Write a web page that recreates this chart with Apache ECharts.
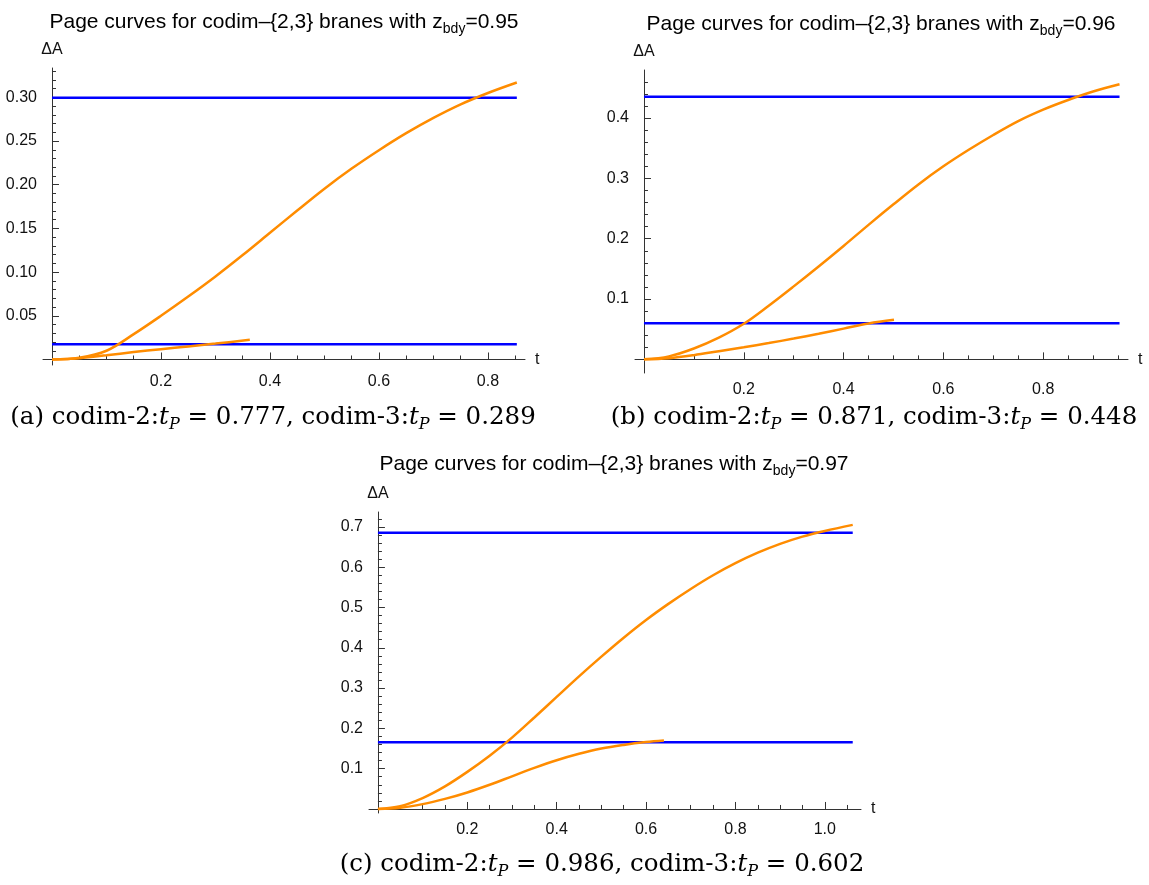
<!DOCTYPE html>
<html>
<head>
<meta charset="utf-8">
<title>Page curves for codim-{2,3} branes</title>
<script src="https://cdn.jsdelivr.net/npm/echarts@6/dist/echarts.min.js"></script>
<style>
  html, body { margin: 0; padding: 0; background: #fff; }
  #chart { width: 1149px; height: 885px; }
</style>
</head>
<body>
<div id="chart"></div>
<script>
// panel (a): z_bdy = 0.95
const aCodim2T = [0, 0.05, 0.1, 0.15, 0.2, 0.25, 0.3, 0.35, 0.4, 0.45, 0.5, 0.55, 0.6, 0.65, 0.7, 0.75, 0.8, 0.853];
const aCodim2V = [0, 0.002, 0.01, 0.029, 0.05, 0.072, 0.095, 0.1195, 0.145, 0.1705, 0.1955, 0.2185, 0.2395, 0.259, 0.2765, 0.292, 0.305, 0.317];
const aCodim3T = [0, 0.05, 0.1, 0.15, 0.2, 0.25, 0.3, 0.363];
const aCodim3V = [0, 0.0015, 0.0048, 0.0085, 0.0118, 0.015, 0.0182, 0.0225];
const aPlateaus = [0.2995, 0.0175];
const aLineEnd = 0.853;

// panel (b): z_bdy = 0.96
const bCodim2T = [0, 0.05, 0.1, 0.15, 0.2, 0.25, 0.3, 0.35, 0.4, 0.45, 0.5, 0.55, 0.6, 0.65, 0.7, 0.75, 0.8, 0.85, 0.9, 0.953];
const bCodim2V = [0, 0.005, 0.018, 0.036, 0.059, 0.089, 0.121, 0.154, 0.188, 0.223, 0.257, 0.29, 0.32, 0.347, 0.372, 0.395, 0.414, 0.43, 0.444, 0.456];
const bCodim3T = [0, 0.05, 0.1, 0.15, 0.2, 0.25, 0.3, 0.35, 0.4, 0.45, 0.501];
const bCodim3V = [0, 0.002, 0.007, 0.0135, 0.02, 0.027, 0.0345, 0.0425, 0.051, 0.0595, 0.0655];
const bPlateaus = [0.4355, 0.0597];
const bLineEnd = 0.953;

// panel (c): z_bdy = 0.97
const cCodim2T = [0, 0.05, 0.1, 0.15, 0.2, 0.25, 0.3, 0.35, 0.4, 0.45, 0.5, 0.55, 0.6, 0.65, 0.7, 0.75, 0.8, 0.85, 0.9, 0.95, 1.0, 1.0625];
const cCodim2V = [0, 0.007, 0.027, 0.056, 0.092, 0.132, 0.177, 0.227, 0.278, 0.329, 0.378, 0.425, 0.469, 0.509, 0.546, 0.58, 0.61, 0.636, 0.658, 0.676, 0.69, 0.705];
const cCodim3T = [0, 0.05, 0.1, 0.15, 0.2, 0.25, 0.3, 0.35, 0.4, 0.45, 0.5, 0.55, 0.6, 0.64];
const cCodim3V = [0, 0.003, 0.012, 0.025, 0.041, 0.06, 0.081, 0.102, 0.121, 0.137, 0.15, 0.159, 0.166, 0.17];
const cPlateaus = [0.6856, 0.1655];
const cLineEnd = 1.0625;

// tick marks
const aXTicks = [0.2, 0.4, 0.6, 0.8];
const aYTicks = [0.05, 0.1, 0.15, 0.2, 0.25, 0.3];
const bXTicks = [0.2, 0.4, 0.6, 0.8];
const bYTicks = [0.1, 0.2, 0.3, 0.4];
const cXTicks = [0.2, 0.4, 0.6, 0.8, 1.0];
const cYTicks = [0.1, 0.2, 0.3, 0.4, 0.5, 0.6, 0.7];

const zValues = ['0.95', '0.96', '0.97'];
const captions = [
  ['(a)', '0.777', '0.289'],
  ['(b)', '0.871', '0.448'],
  ['(c)', '0.986', '0.602'],
];

const SANS = '"Liberation Sans", Arial, sans-serif';
const SERIF = '"DejaVu Serif", serif';
const ORANGE = '#ff8c00';
const BLUE = '#0000ff';
const AXIS = '#333';

// minor tick positions between the labelled ones
const minorTicks = (step, upTo, majors) => {
  const out = [];
  for (let k = 1; k * step <= upTo + 1e-9; k++) {
    const v = +(k * step).toFixed(4);
    if (!majors.some((m) => Math.abs(m - v) < 1e-9)) out.push(v);
  }
  return out;
};

const panels = [
  { grid: { left: 43, top: 68, width: 482, height: 297 },
    x: [-0.0165, 0.868], y: [-0.0063, 0.3336],
    xMajor: aXTicks, yMajor: aYTicks, xMinor: minorTicks(0.05, 0.85, aXTicks), yMinor: minorTicks(0.01, 0.33, aYTicks),
    yDigits: 2, c2: [aCodim2T, aCodim2V], c3: [aCodim3T, aCodim3V], flat: aPlateaus, end: aLineEnd },
  { grid: { left: 635, top: 70, width: 493, height: 303 },
    x: [-0.018, 0.970], y: [-0.0226, 0.4797],
    xMajor: bXTicks, yMajor: bYTicks, xMinor: minorTicks(0.05, 0.95, bXTicks), yMinor: minorTicks(0.02, 0.48, bYTicks),
    yDigits: 1, c2: [bCodim2T, bCodim2V], c3: [bCodim3T, bCodim3V], flat: bPlateaus, end: bLineEnd },
  { grid: { left: 369, top: 512, width: 492, height: 301 },
    x: [-0.02, 1.081], y: [-0.01, 0.737],
    xMajor: cXTicks, yMajor: cYTicks, xMinor: minorTicks(0.05, 1.05, cXTicks), yMinor: minorTicks(0.02, 0.72, cYTicks),
    yDigits: 1, c2: [cCodim2T, cCodim2V], c3: [cCodim3T, cCodim3V], flat: cPlateaus, end: cLineEnd },
];

const grids = [];
const xAxes = [];
const yAxes = [];
const series = [];

panels.forEach((p, g) => {
  grids.push(Object.assign({ outerBoundsMode: 'none', containLabel: false }, p.grid));
  const major = 2 * g;
  const minor = 2 * g + 1;
  const labelStyle = { fontFamily: SANS, fontSize: 16, color: '#111' };

  xAxes.push({
    type: 'value', gridIndex: g, min: p.x[0], max: p.x[1], position: 'bottom',
    axisLine: { onZero: true, onZeroAxisIndex: major, lineStyle: { color: AXIS, width: 1 } },
    axisTick: { inside: true, length: 7, customValues: p.xMajor, lineStyle: { color: AXIS } },
    axisLabel: Object.assign({ customValues: p.xMajor, margin: 9, formatter: (v) => v.toFixed(1) }, labelStyle),
    splitLine: { show: false },
    name: 't', nameLocation: 'end', nameGap: 10, nameMoveOverlap: false,
    nameTextStyle: { fontFamily: SANS, fontSize: 16, color: '#111' },
  });
  xAxes.push({
    type: 'value', gridIndex: g, min: p.x[0], max: p.x[1], position: 'bottom',
    axisLine: { show: false, onZero: true, onZeroAxisIndex: minor },
    axisTick: { inside: true, length: 4, customValues: p.xMinor, lineStyle: { color: AXIS } },
    axisLabel: { show: false },
    splitLine: { show: false },
  });
  yAxes.push({
    type: 'value', gridIndex: g, min: p.y[0], max: p.y[1], position: 'left',
    axisLine: { onZero: true, onZeroAxisIndex: major, lineStyle: { color: AXIS, width: 1 } },
    axisTick: { inside: true, length: 7, customValues: p.yMajor, lineStyle: { color: AXIS } },
    axisLabel: Object.assign({ customValues: p.yMajor, margin: 6, formatter: (v) => v.toFixed(p.yDigits) }, labelStyle),
    splitLine: { show: false },
    name: 'ΔA', nameLocation: 'end', nameGap: 10, nameMoveOverlap: false,
    nameTextStyle: { fontFamily: SANS, fontSize: 16, color: '#111' },
  });
  yAxes.push({
    type: 'value', gridIndex: g, min: p.y[0], max: p.y[1], position: 'left',
    axisLine: { show: false, onZero: true, onZeroAxisIndex: minor },
    axisTick: { inside: true, length: 4, customValues: p.yMinor, lineStyle: { color: AXIS } },
    axisLabel: { show: false },
    splitLine: { show: false },
  });

  p.flat.forEach((v) => {
    series.push({
      type: 'line', xAxisIndex: major, yAxisIndex: major,
      data: [[0, v], [p.end, v]],
      showSymbol: false, silent: true,
      lineStyle: { color: BLUE, width: 2.5 },
    });
  });
  [p.c2, p.c3].forEach(([ts, vs]) => {
    series.push({
      type: 'line', xAxisIndex: major, yAxisIndex: major,
      data: ts.map((t, i) => [t, vs[i]]),
      smooth: 0.35,
      showSymbol: false, silent: true,
      lineStyle: { color: ORANGE, width: 2.5 },
    });
  });
});

const titlePos = [[284, 22], [881, 24], [614, 464]];
const captionPos = [[273, 418], [874, 418], [602, 865]];

const titleRich = {
  sub: { fontFamily: SANS, fontSize: 14, lineHeight: 14, verticalAlign: 'bottom', fill: '#000' },
};
const captionRich = {
  it: { fontFamily: SERIF, fontSize: 24.5, fontStyle: 'italic', fill: '#000' },
  sub: { fontFamily: SERIF, fontSize: 16, fontStyle: 'italic', lineHeight: 16, verticalAlign: 'bottom', fill: '#000' },
};

const graphic = [];
zValues.forEach((z, i) => {
  graphic.push({
    type: 'text', x: titlePos[i][0], y: titlePos[i][1], silent: true,
    style: {
      text: `Page curves for codim–{2,3} branes with z{sub|bdy}=${z}`,
      fontFamily: SANS, fontSize: 21, lineHeight: 28, fill: '#000',
      align: 'center', verticalAlign: 'middle', rich: titleRich,
    },
  });
});
captions.forEach(([tag, tp2, tp3], i) => {
  graphic.push({
    type: 'text', x: captionPos[i][0], y: captionPos[i][1], silent: true,
    style: {
      text: `${tag} codim-2:{it|t}{sub|P} = ${tp2}, codim-3:{it|t}{sub|P} = ${tp3}`,
      fontFamily: SERIF, fontSize: 24.5, lineHeight: 30, fill: '#000',
      align: 'center', verticalAlign: 'middle', rich: captionRich,
    },
  });
});

const chart = echarts.init(document.getElementById('chart'), null, { renderer: 'canvas' });
chart.setOption({
  backgroundColor: '#fff',
  animation: false,
  grid: grids,
  xAxis: xAxes,
  yAxis: yAxes,
  series,
  graphic,
});
</script>
</body>
</html>
